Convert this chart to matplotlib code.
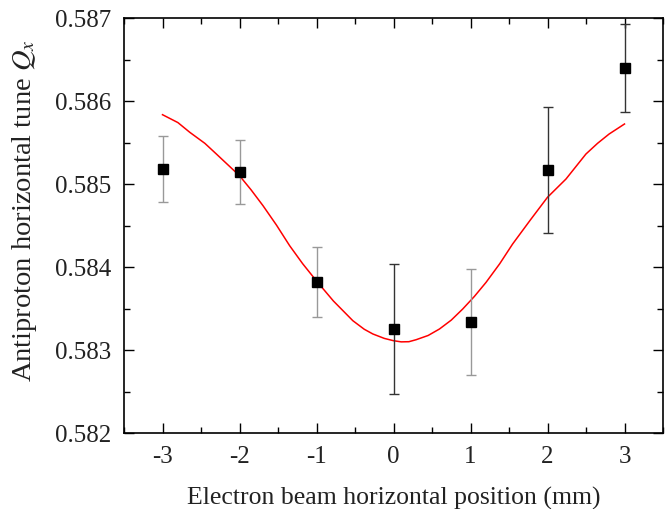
import numpy as np
import matplotlib
matplotlib.use('Agg')
import matplotlib.pyplot as plt
from matplotlib.ticker import MultipleLocator, FormatStrFormatter

# measured points
pos = [-3, -2, -1, 0, 1, 2, 3]
tune = [0.585184, 0.585145, 0.583823, 0.583253, 0.583337, 0.585165, 0.586398]
err = [0.00040, 0.00039, 0.00042, 0.00078, 0.00064, 0.00076, 0.00053]
light_bar = [True, True, True, False, True, False, False]

# fitted curve
fit_x = [-3.0, -2.80, -2.646, -2.45, -2.30, -2.0, -1.85, -1.695, -1.52, -1.349,
         -1.18, -1.003, -0.78, -0.528, -0.38, -0.268, -0.12, 0.0, 0.1, 0.2,
         0.294, 0.45, 0.597, 0.75, 0.899, 1.05, 1.202, 1.38, 1.547, 1.78, 2.0,
         2.24, 2.499, 2.65, 2.80, 3.0]
fit_y = [0.585835, 0.585740, 0.585623, 0.585490, 0.585361, 0.585100, 0.584930,
         0.584739, 0.584505, 0.584257, 0.584040, 0.583835, 0.583590, 0.583353,
         0.583250, 0.583193, 0.583140, 0.583112, 0.583098, 0.583100, 0.583124,
         0.583175, 0.583253, 0.583360, 0.583494, 0.583645, 0.583815, 0.584040,
         0.584277, 0.584570, 0.584840, 0.585060, 0.585361, 0.585490, 0.585602,
         0.585723]

plt.rcParams['font.family'] = 'Liberation Serif'
plt.rcParams['mathtext.fontset'] = 'stix'
plt.rcParams['axes.unicode_minus'] = False

fig = plt.figure(figsize=(6.69, 5.10), dpi=100)
ax = fig.add_axes([124 / 669, 1 - 434 / 510, 539 / 669, 415 / 510])

ax.plot(fit_x, fit_y, color='red', lw=1.1)

for i in range(len(pos)):
    c = '#999999' if light_bar[i] else '#333333'
    ax.errorbar(pos[i], tune[i], yerr=err[i], fmt='s', color='black',
                ms=6.5, ecolor=c, elinewidth=1.0, capsize=3.5, capthick=1.0)

ax.set_xlim(-3.5, 3.5)
ax.set_ylim(0.582, 0.587)
ax.xaxis.set_major_locator(MultipleLocator(1))
ax.xaxis.set_minor_locator(MultipleLocator(0.5))
ax.yaxis.set_major_locator(MultipleLocator(0.001))
ax.yaxis.set_minor_locator(MultipleLocator(0.0005))
ax.yaxis.set_major_formatter(FormatStrFormatter('%.3f'))
ax.tick_params(which='both', direction='in', top=True, right=True, labelsize=18,
               width=1.0, labelcolor='#222222')
ax.tick_params(which='major', length=7, pad=9)
ax.tick_params(which='minor', length=4)
for s in ax.spines.values():
    s.set_linewidth(1.2)

ax.set_xlabel('Electron beam horizontal position (mm)', fontsize=18.5, labelpad=13,
              color='#222222')
ax.set_ylabel('Antiproton horizontal tune $Q_x$', fontsize=20.5, color='#222222')
ax.yaxis.set_label_coords(-0.158, 0.537)

fig.savefig('out.png', dpi=100)
